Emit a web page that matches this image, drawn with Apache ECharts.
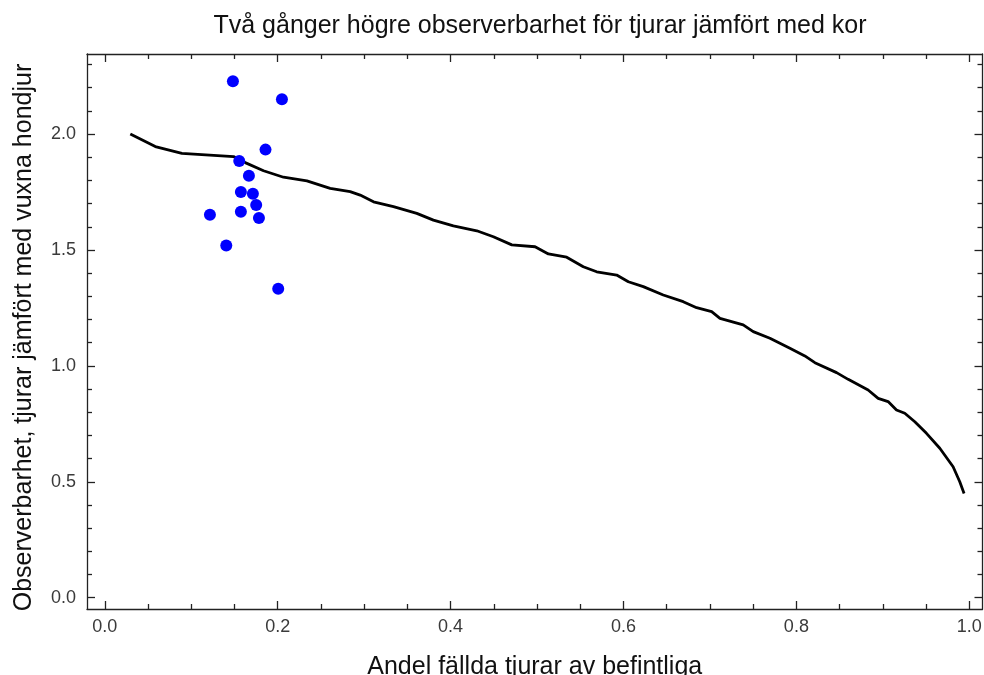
<!DOCTYPE html>
<html>
<head>
<meta charset="utf-8">
<script src="https://cdn.jsdelivr.net/npm/echarts@6/dist/echarts.min.js"></script>
<style>
  html, body { margin: 0; padding: 0; background: #fff; }
  #chart { width: 984px; height: 675px; }
</style>
</head>
<body>
<div id="chart"></div>
<script>
// Observed herds: share of bulls culled vs. relative observability
const obsX = [0.1482, 0.2049, 0.1859, 0.1555, 0.1667, 0.1574, 0.1713, 0.1751, 0.1574, 0.1783, 0.1216, 0.1405, 0.2006];
const obsY = [2.228, 2.150, 1.933, 1.884, 1.820, 1.750, 1.743, 1.694, 1.665, 1.638, 1.652, 1.519, 1.333];

// Model curve: expected observability ratio as the culled share grows
const curveX = [0.0295, 0.0584, 0.0892, 0.1489, 0.1624, 0.1836, 0.2067, 0.2338, 0.2607, 0.2838,
                0.2954, 0.3108, 0.3339, 0.3609, 0.3801, 0.4032, 0.4303, 0.4495, 0.4708, 0.4977,
                0.5131, 0.5343, 0.5535, 0.5690, 0.5921, 0.6056, 0.6229, 0.6460, 0.6691, 0.6846,
                0.7020, 0.7116, 0.7385, 0.7501, 0.7694, 0.7925, 0.8098, 0.8214, 0.8465, 0.8599,
                0.8830, 0.8946, 0.9061, 0.9158, 0.9254, 0.9370, 0.9505, 0.9659, 0.9813, 0.9890, 0.9940];
const curveY = [2.000, 1.946, 1.917, 1.903, 1.877, 1.842, 1.814, 1.798, 1.766, 1.752,
                1.737, 1.708, 1.687, 1.658, 1.629, 1.604, 1.583, 1.557, 1.522, 1.514,
                1.483, 1.469, 1.428, 1.406, 1.392, 1.363, 1.342, 1.306, 1.277, 1.251,
                1.234, 1.205, 1.177, 1.148, 1.119, 1.076, 1.043, 1.014, 0.971, 0.942,
                0.896, 0.860, 0.846, 0.810, 0.796, 0.759, 0.709, 0.645, 0.565, 0.500, 0.450];

// Frame ticks
const xMajorTicks = [0, 0.2, 0.4, 0.6, 0.8, 1.0];
const xMinorTicks = [0.05, 0.1, 0.15, 0.25, 0.3, 0.35, 0.45, 0.5, 0.55, 0.65, 0.7, 0.75, 0.85, 0.9, 0.95];
const yMajorTicks = [0, 0.5, 1.0, 1.5, 2.0];
const yMinorTicks = [0.1, 0.2, 0.3, 0.4, 0.6, 0.7, 0.8, 0.9, 1.1, 1.2, 1.3, 1.4, 1.6, 1.7, 1.8, 1.9, 2.1, 2.2, 2.3];

const titleText = 'Två gånger högre observerbarhet för tjurar jämfört med kor';
const xName = 'Andel fällda tjurar av befintliga';
const yName = 'Observerbarhet, tjurar jämfört med vuxna hondjur';

const FONT = 'Liberation Sans, Arial, sans-serif';
const X_RANGE = { min: -0.0206, max: 1.0153 };
const Y_RANGE = { min: -0.0487, max: 2.3455 };
const frameLine = { color: '#222', width: 1.3 };
const tickLine = { color: '#222', width: 1.3 };

function frameAxis(range, position, ticks, len, opts) {
  return Object.assign({
    type: 'value',
    position: position,
    min: range.min,
    max: range.max,
    axisLine: { show: !!opts.line, onZero: false, lineStyle: frameLine },
    axisTick: { show: true, inside: true, length: len, customValues: ticks, lineStyle: tickLine },
    axisLabel: { show: false },
    splitLine: { show: false },
    minorTick: { show: false }
  }, opts.extra || {});
}

function tickLabels(values, margin) {
  return {
    show: true,
    customValues: values,
    formatter: v => v.toFixed(1),
    color: '#3a3a3a',
    fontFamily: FONT,
    fontSize: 18,
    margin: margin
  };
}

const nameStyle = { color: '#111', fontFamily: FONT, fontSize: 25 };

const xBottom = frameAxis(X_RANGE, 'bottom', xMajorTicks, 8, {
  line: true,
  extra: { name: xName, nameLocation: 'middle', nameGap: 46, nameTextStyle: nameStyle }
});
xBottom.axisLabel = tickLabels(xMajorTicks, 9);

const yLeft = frameAxis(Y_RANGE, 'left', yMajorTicks, 8, {
  line: true,
  extra: {
    name: yName, nameLocation: 'middle', nameGap: 50,
    nameTextStyle: Object.assign({ padding: [0, 12, 0, 0] }, nameStyle)
  }
});
yLeft.axisLabel = tickLabels(yMajorTicks, 11);

const chart = echarts.init(document.getElementById('chart'), null, { renderer: 'canvas' });

const option = {
  backgroundColor: '#fff',
  animation: false,
  title: {
    text: titleText,
    left: 535,
    textAlign: 'center',
    top: 9,
    textStyle: { color: '#111', fontFamily: FONT, fontSize: 25, fontWeight: 'normal' }
  },
  grid: { left: 87, right: 1.5, top: 54, bottom: 66, containLabel: false, outerBoundsMode: 'none' },
  xAxis: [
    xBottom,
    frameAxis(X_RANGE, 'bottom', xMinorTicks, 5, {}),
    frameAxis(X_RANGE, 'top', xMajorTicks, 8, { line: true }),
    frameAxis(X_RANGE, 'top', xMinorTicks, 5, {})
  ],
  yAxis: [
    yLeft,
    frameAxis(Y_RANGE, 'left', yMinorTicks, 5, {}),
    frameAxis(Y_RANGE, 'right', yMajorTicks, 8, { line: true }),
    frameAxis(Y_RANGE, 'right', yMinorTicks, 5, {})
  ],
  series: [
    {
      type: 'line',
      xAxisIndex: 0,
      yAxisIndex: 0,
      data: curveX.map((x, i) => [x, curveY[i]]),
      showSymbol: false,
      smooth: false,
      lineStyle: { color: '#000', width: 2.8 },
      z: 2
    },
    {
      type: 'scatter',
      xAxisIndex: 0,
      yAxisIndex: 0,
      data: obsX.map((x, i) => [x, obsY[i]]),
      symbol: 'circle',
      symbolSize: 12,
      itemStyle: { color: '#0000ff', opacity: 1 },
      z: 3
    }
  ]
};

chart.setOption(option);
</script>
</body>
</html>
